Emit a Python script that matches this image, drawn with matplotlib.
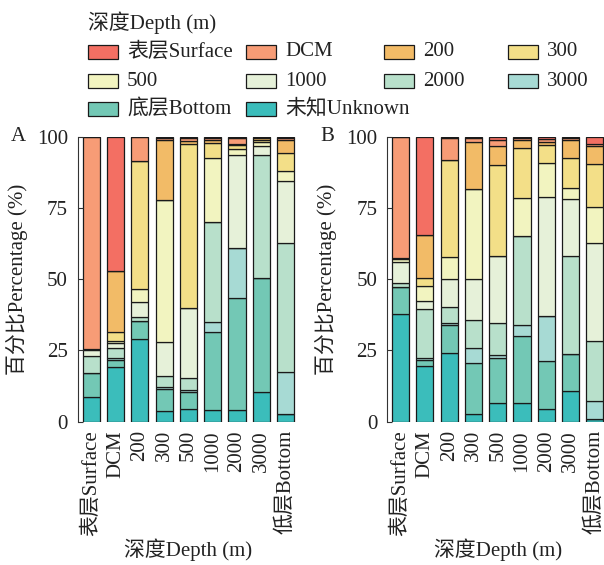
import numpy as np
import matplotlib
matplotlib.use('Agg')
import matplotlib.pyplot as plt
from matplotlib.patches import Rectangle

plt.rcParams['font.family'] = ['Liberation Serif', 'Noto Sans CJK SC']
plt.rcParams['font.size'] = 15

# x categories (sampling depth)
depths = ['表层Surface', 'DCM', '200', '300', '500', '1000', '2000', '3000', '低层Bottom']

# stacked layers, bottom -> top
layers = ['未知Unknown', '底层Bottom', '3000', '2000', '1000', '500', '300', '200', 'DCM', '表层Surface']
layer_colors = ['#3bbdbb', '#73c8b5', '#a7dad4', '#b8e0cb', '#e6f1d9',
                '#f2f4c0', '#f3df88', '#f2bb67', '#f79c76', '#f36f63']

# panel A, percentages per layer (one value per depth)
a_unknown = [8.5, 19.3, 29.0, 3.7, 4.3, 4.1, 4.1, 10.3, 2.6]
a_bottom = [8.7, 2.3, 6.3, 7.6, 6.2, 27.5, 39.4, 40.2, 0]
a_3000 = [0, 0.9, 0, 0.9, 0.6, 3.5, 17.5, 0, 15.0]
a_2000 = [5.8, 3.2, 1.5, 3.9, 4.1, 34.9, 0, 43.0, 45.0]
a_1000 = [2.0, 1.8, 5.3, 11.9, 24.8, 0, 32.5, 3.3, 21.9]
a_500 = [0.6, 0.8, 4.3, 49.9, 0, 22.7, 2.1, 1.4, 3.6]
a_300 = [0, 3.3, 45.0, 0, 57.4, 5.0, 1.6, 0.6, 6.3]
a_200 = [0, 21.3, 0, 20.8, 1.2, 1.2, 0.4, 0.6, 4.4]
a_dcm = [74.4, 0, 8.6, 0.7, 0.8, 0.6, 1.8, 0.6, 0.9]
a_surface = [0, 47.1, 0, 0.6, 0.6, 0.5, 0.6, 0, 0.3]

# panel B
b_unknown = [37.7, 19.6, 24.2, 2.6, 6.7, 6.7, 4.4, 10.9, 0.9]
b_bottom = [9.7, 2.0, 9.7, 17.9, 15.6, 23.5, 16.8, 12.9, 0]
b_3000 = [0, 0.8, 0.9, 5.5, 1.2, 3.7, 15.9, 0, 6.4]
b_2000 = [1.2, 17.0, 5.5, 9.7, 11.3, 31.2, 0, 34.2, 21.1]
b_1000 = [7.6, 3.0, 9.9, 14.4, 23.4, 0, 41.8, 20.2, 34.4]
b_500 = [0.8, 5.1, 7.6, 31.5, 0, 13.5, 12.0, 3.7, 12.4]
b_300 = [0.6, 2.9, 33.9, 0, 31.9, 17.3, 6.1, 10.8, 15.1]
b_200 = [0, 15.0, 0, 16.6, 6.8, 2.9, 1.2, 6.2, 6.5]
b_dcm = [42.4, 0, 7.9, 1.2, 1.8, 0.8, 1.0, 0.6, 0.6]
b_surface = [0, 34.6, 0.4, 0.6, 1.3, 0.4, 0.8, 0.5, 2.6]

panel_a = [a_unknown, a_bottom, a_3000, a_2000, a_1000, a_500, a_300, a_200, a_dcm, a_surface]
panel_b = [b_unknown, b_bottom, b_3000, b_2000, b_1000, b_500, b_300, b_200, b_dcm, b_surface]

W, H = 604, 565
fig = plt.figure(figsize=(W / 100, H / 100), dpi=100)
txt = '#222222'


def draw_panel(ax, data, tag):
    x = np.arange(len(depths))
    bottom = np.zeros(len(depths))
    for vals, col in zip(data, layer_colors):
        ax.bar(x, vals, bottom=bottom, width=0.71, color=col,
               edgecolor='#1a1a1a', linewidth=0.9)
        bottom += np.array(vals)
    ax.set_xlim(-0.56, 8.56)
    ax.set_ylim(0, 100)
    ax.set_yticks([0, 25, 50, 75, 100])
    ax.set_xticks(x)
    ax.set_xticklabels(depths, rotation=90, va='top', ha='center', color=txt)
    for s in ['top', 'right', 'bottom']:
        ax.spines[s].set_visible(False)
    ax.spines['left'].set_bounds(0, 100)
    ax.spines['left'].set_color('#333333')
    ax.spines['left'].set_linewidth(0.8)
    ax.tick_params(axis='y', direction='in', length=3.5, width=0.8, pad=7,
                   colors='#333333', labelcolor=txt, labelsize=15)
    ax.tick_params(axis='x', length=0, pad=6, labelsize=15)
    ax.text(-0.275, 0.5, '百分比Percentage (%)', rotation=90, ha='center',
            va='center', transform=ax.transAxes, color=txt)
    ax.text(-0.27, 1.0, tag, ha='center', va='center', transform=ax.transAxes,
            color=txt)
    ax.text(0.5, -0.45, '深度Depth (m)', ha='center', va='center',
            transform=ax.transAxes, color=txt)


ax_a = fig.add_axes([77.7 / W, 143.3 / H, 221.4 / W, 285 / H])
ax_b = fig.add_axes([387 / W, 143.3 / H, 221.4 / W, 285 / H])
draw_panel(ax_a, panel_a, 'A')
draw_panel(ax_b, panel_b, 'B')

# legend, laid out as in the original (4 columns, byrow)
leg_labels = layers[::-1]
leg_colors = layer_colors[::-1]
col_x = [88, 246, 384, 508]
row_y = [52, 81, 109]
fig.text(88 / W, 1 - 23 / H, '深度Depth (m)', ha='left', va='center', color=txt)
for i, (lab, col) in enumerate(zip(leg_labels, leg_colors)):
    cx = col_x[i % 4]
    cy = row_y[i // 4]
    fig.add_artist(Rectangle((cx / W, 1 - (cy + 7) / H), 30 / W, 14 / H,
                             transform=fig.transFigure, facecolor=col,
                             edgecolor='#1a1a1a', linewidth=0.9))
    fig.text((cx + 39) / W, 1 - cy / H, lab, ha='left', va='center', color=txt)

fig.savefig('out.png', dpi=100)
